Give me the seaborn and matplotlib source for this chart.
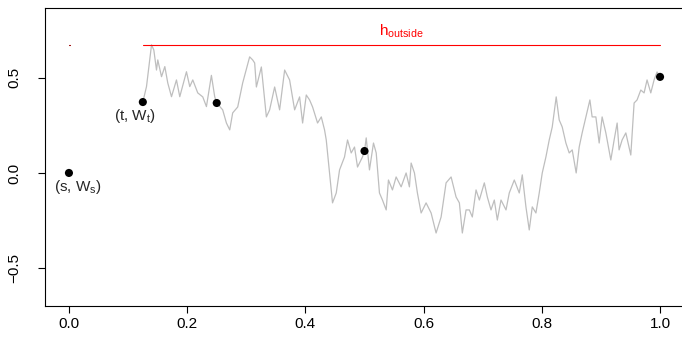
import matplotlib
matplotlib.use("Agg")
import matplotlib.pyplot as plt
import seaborn as sns
import numpy as np
import pandas as pd

# Brownian path sampled between t = 0.125 and 1
path_t = [0.125, 0.1312, 0.1397, 0.1436, 0.1481, 0.1503, 0.1566, 0.1622, 0.1672, 0.1735,
          0.1819, 0.1875, 0.1988, 0.2044, 0.2095, 0.2179, 0.2264, 0.2326, 0.2410, 0.2466,
          0.25, 0.2601, 0.2664, 0.2720, 0.2770, 0.2855, 0.2939, 0.3057, 0.3108, 0.3142,
          0.3171, 0.3255, 0.3340, 0.3395, 0.3480, 0.3564, 0.3649, 0.3733, 0.3818, 0.3902,
          0.3953, 0.4015, 0.4071, 0.4122, 0.4206, 0.4269, 0.4324, 0.4353, 0.4409, 0.4459,
          0.4522, 0.4578, 0.4662, 0.4713, 0.4775, 0.4831, 0.4882, 0.4966, 0.5, 0.5029,
          0.5084, 0.5152, 0.5198, 0.5253, 0.5304, 0.5367, 0.5405, 0.5473, 0.5535, 0.5620,
          0.5704, 0.5760, 0.5789, 0.5845, 0.5895, 0.5958, 0.6042, 0.6127, 0.6211, 0.6296,
          0.6380, 0.6465, 0.6549, 0.6605, 0.6655, 0.6718, 0.6774, 0.6824, 0.6887, 0.6943,
          0.7027, 0.7078, 0.7140, 0.7196, 0.7247, 0.7309, 0.7394, 0.7449, 0.7534, 0.7618,
          0.7669, 0.7731, 0.7787, 0.7838, 0.7900, 0.7956, 0.8007, 0.8069, 0.8125, 0.8176,
          0.8243, 0.8294, 0.8345, 0.8407, 0.8463, 0.8514, 0.8581, 0.8632, 0.8682, 0.8745,
          0.8813, 0.8851, 0.8914, 0.8970, 0.9020, 0.9083, 0.9167, 0.9223, 0.9274, 0.9307,
          0.9358, 0.9421, 0.9505, 0.9561, 0.9611, 0.9674, 0.9730, 0.9780, 0.9843, 0.9899,
          0.9949, 1.0]
path_w = [0.372, 0.453, 0.672, 0.645, 0.540, 0.593, 0.505, 0.558, 0.472, 0.400,
          0.488, 0.400, 0.531, 0.453, 0.488, 0.420, 0.399, 0.348, 0.512, 0.400,
          0.367, 0.331, 0.262, 0.226, 0.315, 0.346, 0.472, 0.609, 0.593, 0.577,
          0.451, 0.556, 0.294, 0.331, 0.451, 0.331, 0.540, 0.488, 0.331, 0.399,
          0.262, 0.409, 0.383, 0.346, 0.262, 0.294, 0.226, 0.173, 0.000, -0.157,
          -0.105, 0.016, 0.084, 0.173, 0.105, 0.136, 0.031, 0.084, 0.115, 0.184,
          0.016, 0.157, 0.105, -0.105, -0.142, -0.194, -0.037, -0.089, -0.021, -0.073,
          0.000, -0.073, 0.052, 0.000, -0.105, -0.210, -0.157, -0.210, -0.315, -0.231,
          -0.052, -0.021, -0.126, -0.157, -0.315, -0.194, -0.194, -0.231, -0.089, -0.142,
          -0.052, -0.126, -0.194, -0.142, -0.247, -0.142, -0.194, -0.105, -0.037, -0.105,
          -0.010, -0.178, -0.299, -0.178, -0.210, -0.105, 0.000, 0.084, 0.173, 0.241,
          0.399, 0.278, 0.241, 0.157, 0.105, 0.121, 0.000, 0.136, 0.210, 0.294,
          0.383, 0.294, 0.294, 0.157, 0.294, 0.210, 0.068, 0.173, 0.262, 0.121,
          0.173, 0.210, 0.094, 0.367, 0.383, 0.435, 0.420, 0.488, 0.420, 0.488,
          0.530, 0.504]

# Marked points on the path
pt_t = [0.0, 0.125, 0.25, 0.5, 1.0]
pt_w = [0.0, 0.372, 0.367, 0.115, 0.504]

h_outside = 0.672
h_start, h_end = 0.125, 1.0

sns.set_theme(style="white")
plt.rcParams["font.family"] = ["Liberation Sans", "DejaVu Sans"]
plt.rcParams["mathtext.fontset"] = "custom"
plt.rcParams["mathtext.rm"] = "Liberation Sans"

fig = plt.figure(figsize=(6.82, 3.43), dpi=100)
ax = fig.add_axes([45 / 682, 37 / 343, 639 / 682, 298.5 / 343])

path_df = pd.DataFrame({"t": path_t, "w": path_w})
pts_df = pd.DataFrame({"t": pt_t, "w": pt_w})

sns.lineplot(data=path_df, x="t", y="w", ax=ax, color="#BEBEBE", lw=0.9,
             sort=False, estimator=None)
ax.plot([h_start, h_end], [h_outside, h_outside], color="red", lw=0.8)
ax.plot([0.0, 0.002], [h_outside, h_outside], color="#990000", lw=0.8)
sns.scatterplot(data=pts_df, x="t", y="w", ax=ax, color="black", s=34,
                edgecolor="none", zorder=5)

fs = 11
ax.text((h_start + h_end) / 2, 0.695, r"h$_\mathregular{outside}$", color="red",
        fontsize=fs, ha="center", va="bottom")
ax.annotate(r"(t, W$_\mathregular{t}$)", (pt_t[1], pt_w[1]), xytext=(-6, -3.5),
            textcoords="offset points", ha="center", va="top", fontsize=fs)
ax.annotate(r"(s, W$_\mathregular{s}$)", (pt_t[0], pt_w[0]), xytext=(6.5, -3.5),
            textcoords="offset points", ha="center", va="top", fontsize=fs)

ax.set_xlim(-0.0405, 1.0405)
ax.set_ylim(-0.698, 0.868)
ax.set_xticks([0.0, 0.2, 0.4, 0.6, 0.8, 1.0])
ax.set_xticklabels(["0.0", "0.2", "0.4", "0.6", "0.8", "1.0"])
ax.set_yticks([-0.5, 0.0, 0.5])
ax.set_yticklabels(["\u22120.5", "0.0", "0.5"], rotation=90, va="center")
ax.set_xlabel("")
ax.set_ylabel("")
ax.tick_params(axis="both", direction="out", length=5, width=0.8, color="black",
               labelsize=fs, labelcolor="black", bottom=True, left=True)
ax.tick_params(axis="x", pad=3)
ax.tick_params(axis="y", pad=12)
for sp in ax.spines.values():
    sp.set_visible(True)
    sp.set_color("black")
    sp.set_linewidth(0.8)

fig.savefig("out.png", dpi=100, facecolor="white")
